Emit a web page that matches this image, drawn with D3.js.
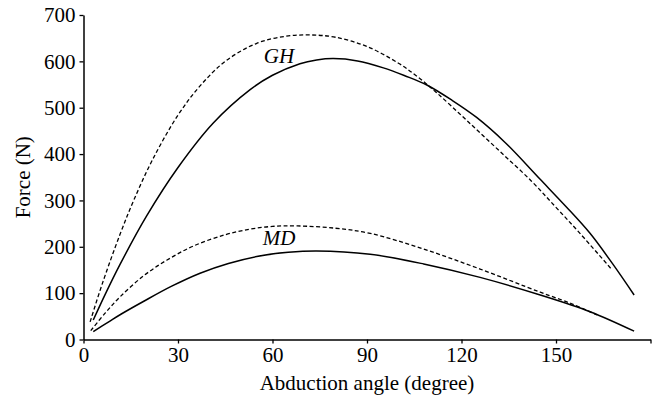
<!DOCTYPE html>
<html><head><meta charset="utf-8">
<script src="https://cdn.jsdelivr.net/npm/d3@7"></script>
<style>body{margin:0;background:#fff}svg{display:block}</style>
</head><body>
<script>
const xTicks = [0, 30, 60, 90, 120, 150, 180];
const yTicks = [0, 100, 200, 300, 400, 500, 600, 700];

const ghSolidAngle = [3.1, 7, 11.6, 20, 30, 41.2, 52.9, 60, 68.7, 74, 79.3, 87, 95.2, 102, 109, 117, 124.8, 134, 144.9, 153, 160.8, 168, 174.8];
const ghSolidForce = [42, 99, 162, 266, 371, 467, 539, 570, 595, 603, 606, 601, 586, 569, 549, 516, 479, 424, 346, 288, 229, 163, 96];

const ghDashAngle = [2.1, 6, 11.6, 16, 22, 30, 37, 45, 55, 64, 72, 80, 90, 100, 106, 112, 121.6, 132, 142.3, 150, 157.6, 167.7];
const ghDashForce = [38, 121, 227, 301, 389, 484, 547, 600, 639, 654, 657, 652, 632, 596, 567, 533, 473, 407, 341, 285, 229, 151];

const mdSolidAngle = [3.1, 8, 12, 19, 28, 37, 46, 55, 65, 74, 91, 108, 125.9, 145, 160.8, 174.8];
const mdSolidForce = [17, 38, 55, 82, 115, 143, 164, 179, 188, 191, 184, 163, 134, 96, 60, 18];

const mdDashAngle = [2.3, 7, 11.6, 19, 26.4, 35, 45, 52.9, 60, 68, 80, 91, 108, 125.9, 145, 155, 163];
const mdDashForce = [19, 58, 92, 137, 171, 202, 226, 238, 244, 245, 240, 229, 195, 152, 102, 77, 53];

const W = 656, H = 396;
const svg = d3.select("body").append("svg").attr("width", W).attr("height", H);
const x = d3.scaleLinear().domain([0, 180]).range([83.5, 650.5]);
const y = d3.scaleLinear().domain([0, 700]).range([339.5, 15]);
const font = "Liberation Serif";
const fs = 21;

const gx = svg.append("g").attr("transform", `translate(0,${y(0)})`)
  .call(d3.axisBottom(x).tickValues(xTicks).tickFormat(d => d === 180 ? "" : d).tickSize(4).tickSizeOuter(0));
const gy = svg.append("g").attr("transform", `translate(${x(0)},0)`)
  .call(d3.axisLeft(y).tickValues(yTicks).tickSize(4).tickSizeOuter(0));
[gx, gy].forEach(g => {
  g.attr("font-family", font).attr("font-size", fs);
  g.selectAll("path.domain").attr("stroke", "#000").attr("stroke-width", 1.5);
  g.selectAll(".tick line").attr("stroke", "#000").attr("stroke-width", 1.3);
  g.selectAll("text").attr("fill", "#000");
});
gx.selectAll("text").attr("dy", 0).attr("y", 22.5);
gy.selectAll("text").attr("x", -8);

const line = d3.line().x(d => x(d[0])).y(d => y(d[1])).curve(d3.curveCatmullRom.alpha(0.5));
function draw(a, f, dashed) {
  svg.append("path").datum(a.map((v, i) => [v, f[i]]))
    .attr("d", line).attr("fill", "none").attr("stroke", "#000")
    .attr("stroke-width", dashed ? 1.3 : 1.5)
    .attr("stroke-dasharray", dashed ? "4,2.5" : null);
}
draw(ghDashAngle, ghDashForce, true);
draw(ghSolidAngle, ghSolidForce, false);
draw(mdDashAngle, mdDashForce, true);
draw(mdSolidAngle, mdSolidForce, false);

function label(t, px, py, italic) {
  const s = svg.append("text").attr("x", px).attr("y", py).attr("text-anchor", "middle")
    .attr("font-family", font).attr("font-size", fs).attr("fill", "#000").text(t);
  if (italic) s.attr("font-style", "italic");
  return s;
}
label("GH", 279, 63, true);
label("MD", 279, 245, true);
label("Abduction angle (degree)", 367, 390, false);
svg.append("text").attr("transform", `translate(30,${(y(0) + y(700)) / 2}) rotate(-90)`)
  .attr("text-anchor", "middle").attr("font-family", font).attr("font-size", fs)
  .attr("fill", "#000").text("Force (N)");
</script>
</body></html>
